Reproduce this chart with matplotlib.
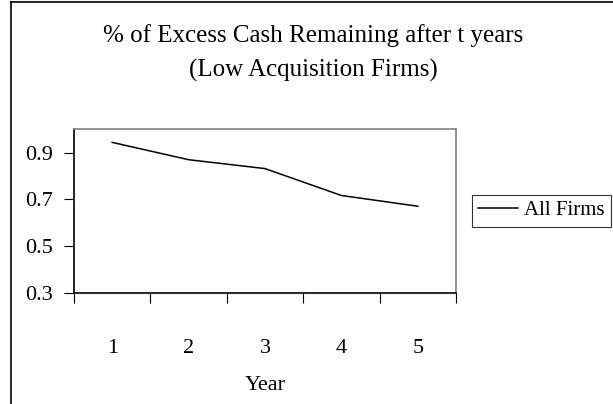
"""Percent of excess cash remaining after t years, low acquisition firms."""

import matplotlib

matplotlib.use("Agg")
import matplotlib.pyplot as plt
from matplotlib.lines import Line2D
import numpy as np

years = [1, 2, 3, 4, 5]
all_firms = [0.944, 0.870, 0.832, 0.717, 0.671]

title_lines = ["% of Excess Cash Remaining after t years", "(Low Acquisition Firms)"]
y_ticks = [0.3, 0.5, 0.7, 0.9]

plt.rcParams["font.family"] = ["Liberation Serif", "DejaVu Serif"]

W, H = 613, 404
fig = plt.figure(figsize=(W / 100, H / 100), dpi=100)
ax = fig.add_axes([74 / W, 1 - 293 / H, 382 / W, 163.7 / H])

ax.plot(years, all_firms, color="black", lw=1.1, label="All Firms")

ax.set_xlim(0.5, 5.5)
ax.set_ylim(0.3, 1.0)

# category axis: ticks between categories, labels at the centres
ax.set_xticks(np.arange(0.5, 6.0, 1.0))
ax.set_xticklabels([])
ax.set_xticks(years, minor=True)
ax.set_xticklabels([str(y) for y in years], minor=True, fontsize=16)
ax.tick_params(axis="x", which="major", direction="out", length=7, width=0.8)
ax.tick_params(axis="x", which="minor", length=0, pad=33)

ax.set_yticks(y_ticks)
ax.set_yticklabels([f"{v:.1f}" for v in y_ticks], fontsize=16)
ax.tick_params(axis="y", direction="out", length=7, width=0.8, pad=8)

ax.set_xlabel("Year", fontsize=16, labelpad=13)

for side in ("left", "bottom"):
    ax.spines[side].set_color("black")
    ax.spines[side].set_linewidth(1.2)
for side in ("top", "right"):
    ax.spines[side].set_color("#808080")
    ax.spines[side].set_linewidth(1.2)

fig.text(313.5 / W, 1 - 41.7 / H, title_lines[0], ha="center", va="baseline", fontsize=18)
fig.text(313.5 / W, 1 - 76.7 / H, title_lines[1], ha="center", va="baseline", fontsize=18)

leg = ax.legend(
    loc="center left",
    bbox_to_anchor=(471.7 / W, 1 - 210.7 / H),
    bbox_transform=fig.transFigure,
    borderaxespad=0,
    fontsize=15,
    frameon=True,
    fancybox=False,
    handlelength=1.9,
    handletextpad=0.3,
    borderpad=0.3,
)
leg.get_frame().set_edgecolor("black")
leg.get_frame().set_linewidth(0.8)

# chart area border (only top and left edges visible in the crop)
fig.add_artist(Line2D([11 / W, 11 / W], [0, 1 - 1.5 / H], color="black", lw=1.2, transform=fig.transFigure))
fig.add_artist(Line2D([11 / W, 1], [1 - 1.5 / H, 1 - 1.5 / H], color="black", lw=1.2, transform=fig.transFigure))

fig.savefig("out.png", dpi=100)
